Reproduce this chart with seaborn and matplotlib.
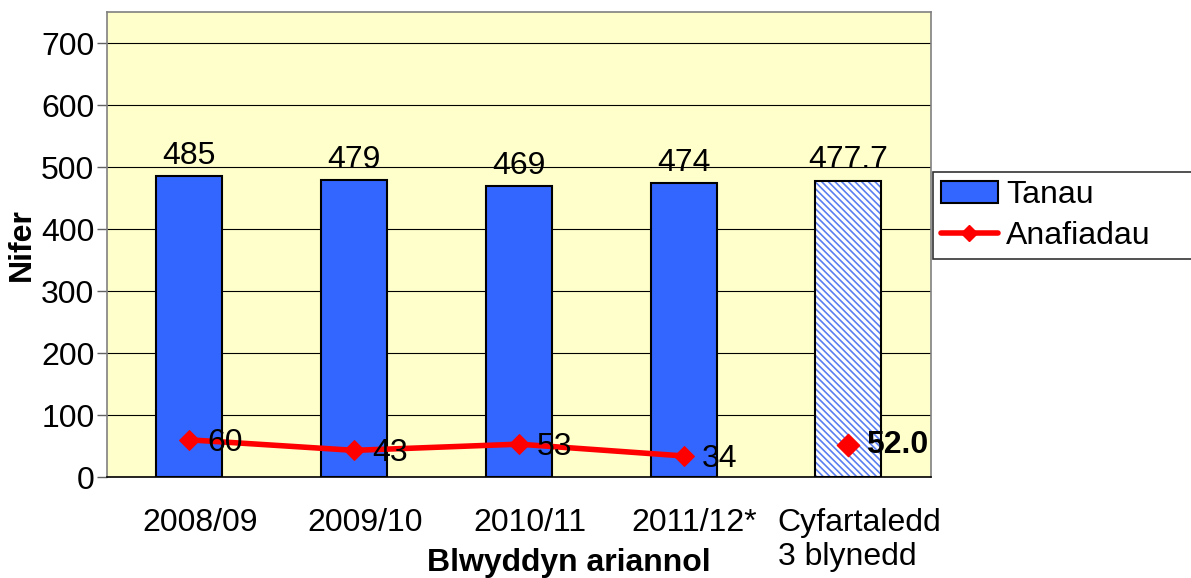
import numpy as np
import pandas as pd
import seaborn as sns
import matplotlib.pyplot as plt
import matplotlib.transforms as mtransforms
from matplotlib.patches import Patch, Rectangle
from matplotlib.lines import Line2D

years = ['2008/09', '2009/10', '2010/11', '2011/12*', 'Cyfartaledd\n3 blynedd']
fires = [485, 479, 469, 474, 477.7]
injuries = [60, 43, 53, 34]
injury_avg = 52.0

bar_blue = '#3366ff'
hatch_blue = '#5a7ff0'
line_red = '#ff0000'
fs = 23

sns.set_style('white')
plt.rcParams['font.family'] = ['Liberation Sans', 'DejaVu Sans']
plt.rcParams['text.color'] = 'black'
plt.rcParams['xtick.color'] = 'black'
plt.rcParams['ytick.color'] = 'black'
plt.rcParams['axes.labelcolor'] = 'black'
plt.rcParams['hatch.linewidth'] = 1.2

fig = plt.figure(figsize=(11.91, 5.78), dpi=100)
ax = fig.add_axes([0.0898, 0.1747, 0.6917, 0.8045])
ax.set_facecolor('#ffffcc')
ax.set_axisbelow(True)

df = pd.DataFrame({'year': years, 'fires': fires})
sns.barplot(data=df, x='year', y='fires', color=bar_blue, saturation=1,
            width=0.4, edgecolor='black', linewidth=1.5, ax=ax, zorder=2)

# average bar: hatched, keep a black outline on top
avg = ax.patches[len(years) - 1]
avg.set_facecolor('white')
avg.set_edgecolor(hatch_blue)
avg.set_hatch('\\\\\\\\\\')
avg.set_linewidth(0)
ax.add_patch(Rectangle((avg.get_x(), 0), avg.get_width(), avg.get_height(),
                       fill=False, edgecolor='black', lw=1.5, zorder=3))

sns.lineplot(x=np.arange(len(injuries)), y=injuries, color=line_red, lw=4,
             marker='D', markersize=10, markeredgecolor=line_red, ax=ax, zorder=4)
sns.scatterplot(x=[len(injuries)], y=[injury_avg], marker='D', s=130,
                color=line_red, edgecolor=line_red, ax=ax, zorder=4)

for i, v in enumerate(fires):
    ax.annotate(f'{v:g}', (i, v), xytext=(0, 9), textcoords='offset points',
                ha='center', va='baseline', fontsize=fs)
for i, v in enumerate(injuries):
    ax.annotate(f'{v}', (i, v), xytext=(13, -2), textcoords='offset points',
                ha='left', va='center', fontsize=fs, zorder=5)
ax.annotate(f'{injury_avg:.1f}', (len(injuries), injury_avg), xytext=(13, 0),
            textcoords='offset points', ha='left', va='center', fontsize=fs,
            fontweight='bold', zorder=5)

ax.set_xlim(-0.5, len(years) - 0.5)
ax.set_ylim(0, 750)
ax.set_yticks(range(0, 701, 100))
ax.set_xticks(range(len(years)))
ax.set_xticklabels(years)
ax.set_xticks(np.arange(0.5, len(years) - 1, 1), minor=True)
ax.tick_params(axis='x', which='major', length=0, pad=22, labelsize=fs)
ax.tick_params(axis='x', which='minor', length=8, direction='out', color='#606060', width=1)
ax.tick_params(axis='y', length=7, direction='out', color='#606060', width=1,
               pad=2, labelsize=fs, left=True)
ax.yaxis.grid(True, color='black', lw=0.8)
ax.xaxis.grid(False)

# category labels sit a little right of the category centre in the original
shift = mtransforms.ScaledTranslation(0.11, 0, fig.dpi_scale_trans)
for tick in ax.xaxis.get_major_ticks():
    tick.label1.set_multialignment('left')
    tick.label1.set_transform(tick.label1.get_transform() + shift)

for side in ['left', 'top', 'right']:
    ax.spines[side].set_color('#808080')
    ax.spines[side].set_linewidth(1.2)
ax.spines['bottom'].set_color('black')
ax.spines['bottom'].set_linewidth(1.2)

ax.set_xlabel('Blwyddyn ariannol', fontsize=fs, fontweight='bold')
ax.set_ylabel('Nifer', fontsize=fs, fontweight='bold')
ax.xaxis.set_label_coords(0.561, -0.152)
ax.yaxis.set_label_coords(-0.085, 0.5)

handles = [Patch(facecolor=bar_blue, edgecolor='black', lw=1.5, label='Tanau'),
           Line2D([], [], color=line_red, lw=4, marker='D', markersize=8, label='Anafiadau')]
leg = fig.legend(handles=handles, loc='upper left', mode='expand',
                 bbox_to_anchor=(0.783, 0.554, 0.222, 0.148),
                 frameon=True, fancybox=False, edgecolor='black', fontsize=fs,
                 handlelength=1.8, handletextpad=0.25, borderaxespad=0,
                 borderpad=0.25, labelspacing=0.35)
leg.get_frame().set_linewidth(1.2)

fig.savefig('out.png', dpi=100)
